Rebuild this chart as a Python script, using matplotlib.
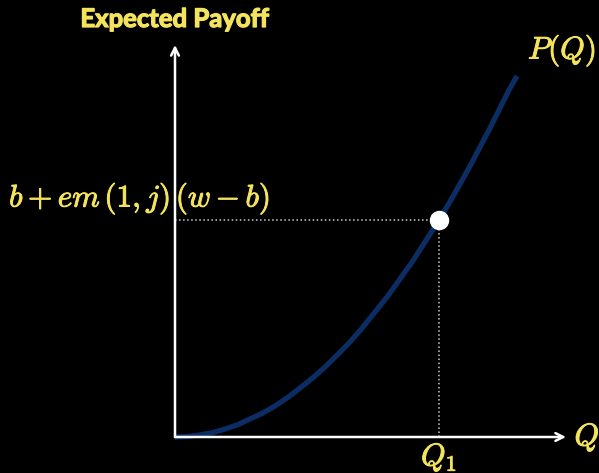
import matplotlib.pyplot as plt
import matplotlib.patheffects as pe

plt.rcParams['mathtext.fontset'] = 'cm'

# curve P(Q) (origin at 0,0)
q_vals = [0, 0.125, 0.25, 0.375, 0.50, 0.625, 0.75, 0.875, 1.00, 1.125, 1.25, 1.375, 1.50,
          1.625, 1.75, 1.875, 2.00, 2.125, 2.25, 2.375, 2.50, 2.64, 2.75, 2.85, 2.95, 3.05,
          3.15, 3.25, 3.34, 3.42]
p_vals = [0, 0.005, 0.02, 0.044, 0.08, 0.122, 0.18, 0.238, 0.31, 0.394, 0.49, 0.589, 0.70,
          0.822, 0.95, 1.094, 1.25, 1.406, 1.58, 1.756, 1.95, 2.17, 2.354, 2.53, 2.709, 2.90,
          3.089, 3.29, 3.47, 3.61]

q1 = 2.64
p_q1 = 2.17
x_end = 3.91
y_end = 3.92

yellow = '#f4e35c'
navy = '#0c2d63'

fig = plt.figure(figsize=(5.99, 4.73), dpi=100, facecolor='black')
ax = fig.add_axes([0, 0, 1, 1])
ax.set_facecolor('black')
ax.set_xlim(-1.75, 4.24)
ax.set_ylim(-0.36, 4.37)
ax.axis('off')

# axes with arrows
ax.annotate('', xy=(x_end, 0), xytext=(0, 0),
            arrowprops=dict(arrowstyle='->', color='white', lw=1.8, shrinkA=0, shrinkB=0,
                            mutation_scale=14))
ax.annotate('', xy=(0, y_end), xytext=(0, 0),
            arrowprops=dict(arrowstyle='->', color='white', lw=1.8, shrinkA=0, shrinkB=0,
                            mutation_scale=14))

# guide lines
ax.plot([0, q1], [p_q1, p_q1], ls=':', color='#cccccc', lw=1.1)
ax.plot([q1, q1], [0, p_q1], ls=':', color='#cccccc', lw=1.1)

# curve and point
ax.plot(q_vals, p_vals, color=navy, lw=3.8, solid_capstyle='butt')
ax.plot([q1], [p_q1], 'o', color='white', markersize=13, zorder=5)

# labels
thick = [pe.withStroke(linewidth=0.7, foreground=yellow)]
ax.text(0, 4.18, 'Expected Payoff', color=yellow, fontsize=18.5, fontweight='bold',
        family='Lato', ha='center', va='center',
        path_effects=[pe.withStroke(linewidth=0.9, foreground=yellow)])
ax.text(0.95, 2.38, r'$b + em\,(1, j)\,(w - b)$', color=yellow, fontsize=22.5,
        ha='right', va='center', path_effects=thick)
ax.text(3.87, 3.86, r'$P(Q)$', color=yellow, fontsize=22.5, ha='center', va='center',
        path_effects=thick)
ax.text(4.12, 0.0, r'$Q$', color=yellow, fontsize=22.5, ha='center', va='center',
        path_effects=thick)
ax.text(q1, -0.20, r'$Q_1$', color=yellow, fontsize=22.5, ha='center', va='center',
        path_effects=thick)

fig.savefig('out.png', dpi=100, facecolor='black')
